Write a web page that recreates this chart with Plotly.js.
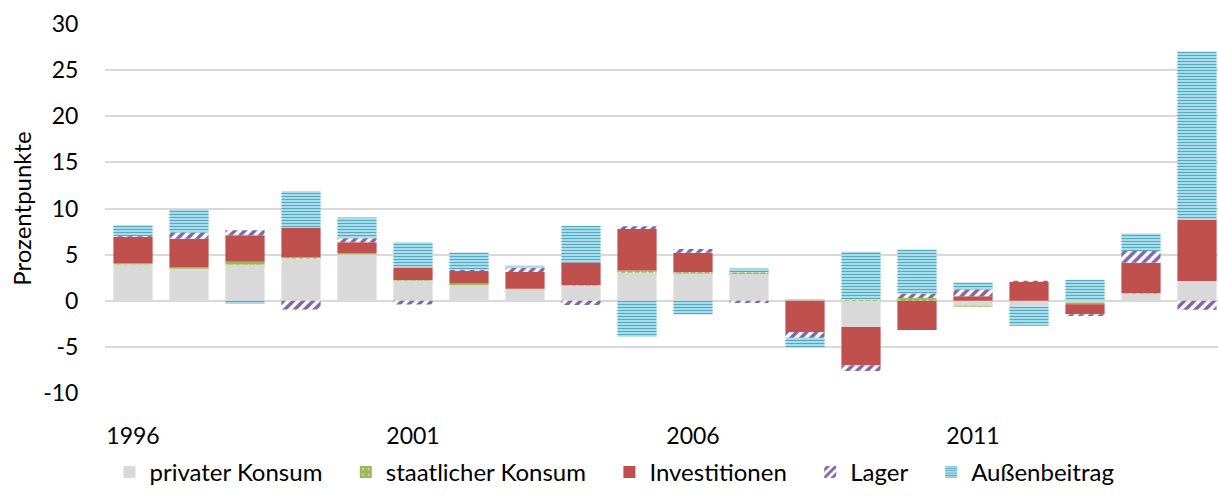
<!DOCTYPE html>
<html>
<head>
<meta charset="utf-8">
<script src="https://cdn.plot.ly/plotly-3.0.1.min.js"></script>
<style>html,body{margin:0;padding:0;background:#fff;overflow:hidden}</style>
</head>
<body>
<div id="chart" style="width:1218px;height:496px"></div>
<script>
const years = ['1996','1997','1998','1999','2000','2001','2002','2003','2004','2005','2006','2007','2008','2009','2010','2011','2012','2013','2014','2015'];
const tickYears = ['1996','2001','2006','2011'];
const yTickVals = [-10, -5, 0, 5, 10, 15, 20, 25, 30];
const yTickText = ['-10', '-5', '0', '5', '10', '15', '20', '25', '30'];
const privaterKonsum = [3.93, 3.46, 3.9, 4.58, 5.01, 2.16, 1.7, 1.26, 1.62, 3.03, 2.92, 2.89, 0.1, -2.85, 0, -0.54, -0.61, -0.2, 0.76, 2.13];
const staatlicherKonsum = [0.15, 0.15, 0.32, 0.1, 0.15, 0.1, 0.18, 0.05, 0.1, 0.25, 0.18, 0.2, 0.05, 0.1, 0.29, -0.1, 0, -0.18, 0.05, 0];
const investitionen = [2.85, 3.1, 2.89, 3.21, 1.19, 1.34, 1.34, 1.8, 2.42, 4.5, 2.09, 0, -3.39, -4.15, -3.17, 0.5, 2.02, -1.08, 3.32, 6.64];
const lager = [0.1, 0.69, 0.54, -0.95, 0.43, -0.4, 0.12, 0.43, -0.45, 0.29, 0.43, -0.25, -0.61, -0.61, 0.5, 0.72, 0.15, -0.18, 1.26, -0.97];
const aussenbeitrag = [1.15, 2.49, -0.35, 3.97, 2.24, 2.74, 1.88, 0.25, 4.0, -3.9, -1.5, 0.4, -1.05, 5.2, 4.76, 0.76, -2.09, 2.27, 1.91, 18.26];

const FONT = 'Lato, "Open Sans", sans-serif';
const GAP = '\u00a0\u00a0\u00a0';
const traces = [
  {name:'privater Konsum' + GAP, y: privaterKonsum, marker:{color:'#d9d9d9'}},
  {name:'staatlicher Konsum' + GAP, y: staatlicherKonsum, marker:{color:'#9bbb59', pattern:{shape:'.', fgcolor:'#e6eed6', bgcolor:'#9bbb59', size:7, solidity:0.08}}},
  {name:'Investitionen' + GAP, y: investitionen, marker:{color:'#c0504d'}},
  {name:'Lager' + GAP, y: lager, marker:{color:'#8064a2', pattern:{shape:'/', fgcolor:'#8064a2', bgcolor:'#ffffff', size:7, solidity:0.5}}},
  {name:'Außenbeitrag', y: aussenbeitrag, marker:{color:'#4bacc6', pattern:{shape:'-', fgcolor:'#4bacc6', bgcolor:'#cdeaf2', size:3, solidity:0.5}}}
].map(t => Object.assign({type:'bar', x: years, hoverinfo:'x+y+name'}, t));

const layout = {
  width:1218, height:496,
  margin:{l:105, r:0, t:24, b:103, autoexpand:false},
  barmode:'relative', bargap:0.3,
  paper_bgcolor:'#fff', plot_bgcolor:'#fff',
  font:{family:FONT, size:23, color:'#000'},
  xaxis:{type:'category', range:[-0.5, 19.375], tickvals: tickYears, ticktext: tickYears,
         ticks:'outside', ticklen:22, tickcolor:'rgba(0,0,0,0)', showgrid:false, showline:false, zeroline:false,
         tickfont:{family:FONT, size:23, color:'#000'}},
  yaxis:{range:[-10,30], tickvals: yTickVals, ticktext: yTickText, showgrid:true, gridcolor:'#d9d9d9', gridwidth:2,
         zeroline:true, zerolinecolor:'#d9d9d9', zerolinewidth:2, showline:false,
         ticks:'outside', ticklen:21, tickcolor:'rgba(0,0,0,0)',
         tickfont:{family:FONT, size:23, color:'#000'},
         title:{text:'Prozentpunkte', font:{family:FONT, size:24, color:'#000'}, standoff:4}},
  legend:{orientation:'h', x:0.004, xanchor:'left', y:-0.154, yanchor:'top', traceorder:'normal',
          font:{family:FONT, size:24, color:'#000'}},
  showlegend:true
};
Plotly.newPlot('chart', traces, layout, {displayModeBar:false, staticPlot:true});
</script>
</body>
</html>
